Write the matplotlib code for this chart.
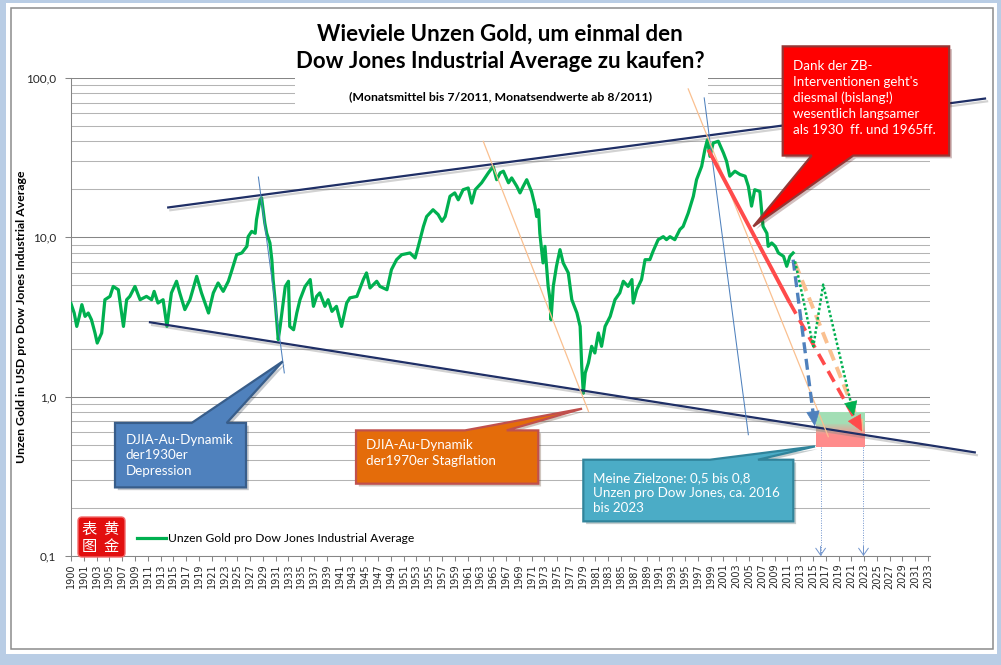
import matplotlib
matplotlib.use("Agg")
import numpy as np
import matplotlib.pyplot as plt
import matplotlib.patheffects as pe
from matplotlib.patches import Rectangle, Polygon, FancyBboxPatch
from matplotlib.ticker import FixedLocator, LogLocator, NullFormatter

plt.rcParams['font.family'] = ['Lato', 'DejaVu Sans']

# Unzen Gold pro Dow Jones
years = [1900.0, 1900.5, 1900.9, 1901.3, 1901.7, 1902.2, 1902.7, 1903.2, 1903.75, 1904.1,
         1904.8, 1905.3, 1906.1, 1906.6, 1907.4, 1908.2, 1908.7, 1909.2, 1910.0, 1910.8,
         1911.8, 1912.6, 1913.0, 1913.6, 1914.4, 1915.0, 1915.7, 1916.5, 1917.0, 1917.8,
         1918.6, 1919.65, 1920.4, 1921.5, 1922.25, 1923.0, 1923.8, 1924.6, 1925.1, 1925.9,
         1926.7, 1927.5, 1927.7, 1928.25, 1928.8, 1929.0, 1929.55, 1929.8, 1930.3, 1930.6,
         1931.1, 1931.4, 1931.6, 1931.9, 1932.4, 1932.7, 1933.1, 1933.5, 1934.0, 1934.2,
         1934.8, 1935.3, 1935.8, 1936.6, 1937.4, 1937.9, 1938.4, 1938.9, 1939.7, 1940.2,
         1940.8, 1941.5, 1942.3, 1943.1, 1943.6, 1944.7, 1945.7, 1946.2, 1946.75, 1947.8,
         1948.3, 1949.4, 1950.1, 1950.9, 1951.7, 1953.0, 1953.8, 1954.3, 1955.1, 1955.6,
         1956.6, 1957.4, 1958.0, 1958.5, 1959.25, 1960.0, 1960.55, 1961.3, 1962.1, 1962.65,
         1963.2, 1964.2, 1965.25, 1966.0, 1966.55, 1967.1, 1967.6, 1968.4, 1968.9, 1969.7,
         1970.2, 1970.7, 1971.25, 1972.0, 1972.55, 1972.8, 1973.1, 1973.3, 1973.8, 1974.1,
         1974.6, 1974.9, 1975.05, 1975.4, 1975.9, 1976.45, 1976.95, 1977.75, 1978.3, 1979.1,
         1979.6, 1979.85, 1980.1, 1980.4, 1980.9, 1981.4, 1981.9, 1982.45, 1982.95, 1983.5,
         1984.3, 1985.05, 1985.8, 1986.35, 1987.1, 1987.7, 1987.9, 1988.45, 1989.2, 1989.75,
         1990.5, 1991.0, 1991.8, 1992.6, 1993.1, 1993.65, 1994.4, 1995.2, 1995.7, 1996.5,
         1997.3, 1997.8, 1998.6, 1999.1, 1999.5, 1999.9, 2000.4, 2001.2, 2002.0, 2002.5,
         2003.0, 2003.8, 2004.6, 2005.4, 2005.9, 2006.4, 2006.9, 2007.7, 2008.2, 2008.8,
         2009.0, 2009.55, 2010.1, 2010.6, 2011.4, 2011.9, 2012.4, 2012.9]
ratio = [3.84, 3.35, 2.76, 3.19, 3.78, 3.19, 3.35, 3.04, 2.51, 2.17,
         2.51, 4.06, 4.26, 4.92, 4.69, 2.76, 4.06, 4.26, 4.92, 4.06,
         4.26, 4.06, 4.58, 3.87, 4.06, 2.76, 4.48, 5.30, 4.48, 3.52,
         4.06, 5.69, 4.48, 3.35, 4.48, 5.17, 4.58, 5.30, 6.12, 7.78,
         7.98, 8.78, 10.1, 10.9, 10.6, 12.9, 17.2, 17.7, 12.3, 10.6,
         9.22, 7.24, 5.43, 4.06, 2.28, 2.76, 3.69, 4.92, 5.30, 2.76,
         2.63, 3.35, 4.06, 4.92, 5.43, 3.69, 4.26, 4.48, 3.69, 4.06,
         3.43, 3.69, 2.76, 3.87, 4.17, 4.26, 5.43, 5.98, 4.81, 5.30,
         4.92, 4.69, 6.27, 7.24, 7.78, 7.98, 7.42, 8.78, 11.7, 13.5,
         14.9, 13.9, 12.6, 13.5, 18.1, 19.0, 17.2, 19.9, 20.4, 16.4,
         19.9, 22.0, 25.4, 27.9, 23.0, 25.4, 26.0, 22.0, 23.6, 20.9,
         19.0, 20.9, 23.0, 19.4, 15.7, 13.5, 14.9, 10.6, 6.91, 8.78,
         4.92, 4.06, 3.04, 4.92, 6.58, 8.37, 6.91, 5.98, 4.06, 3.35,
         2.76, 1.55, 1.05, 1.41, 1.63, 2.07, 1.88, 2.51, 2.07, 2.76,
         3.19, 4.06, 4.48, 5.30, 4.92, 5.43, 3.87, 4.69, 5.43, 7.24,
         7.24, 8.17, 9.67, 10.1, 9.67, 10.1, 9.67, 11.2, 11.7, 14.2,
         18.1, 23.0, 27.9, 35.5, 41.0, 32.2, 39.1, 40.1, 33.9, 30.0,
         24.2, 26.0, 24.8, 24.2, 20.9, 15.7, 19.9, 19.4, 11.7, 10.6,
         8.78, 9.22, 8.78, 7.98, 7.60, 6.58, 7.60, 7.98]

tick_years = [1900] + list(range(1901, 2034, 2))
ytick_vals = [0.1, 1, 10, 100]
ytick_labels = ["0,1", "1,0", "10,0", "100,0"]

# drawn lines (year, value)
upper_trend = ([1915.2, 2042.9], [15.4, 74.3])
lower_trend = ([1912.35, 2041.3], [2.93, 0.447])
blue_thin = [([1929.3, 1933.35], [23.9, 1.41]), ([1999.0, 2005.9], [75.0, 0.577])]
orange_thin = [([1964.46, 1980.9], [40.0, 0.809]), ([1996.5, 2018.4], [85.4, 0.561])]
red_solid = ([1999.64, 2012.4], [35.5, 3.87])
red_dash = ([2012.4, 2023.7], [3.87, 0.603])
orange_dash = ([2013.2, 2023.8], [6.91, 0.594])
blue_dash = ([2012.9, 2016.3], [7.24, 0.651])
green_dots = ([2013.2, 2016.06, 2017.6, 2022.4], [7.07, 2.07, 5.05, 0.76])
zone_years = [2016.5, 2024.1]
zone_vals = [0.48, 0.80]
zone_arrow_years = [2017.2, 2023.9]

W, H = 1001, 665
fig = plt.figure(figsize=(W / 100, H / 100), dpi=100, facecolor='#b9cde5')
fig.add_artist(Rectangle((6 / W, 1 - 654 / H), 991 / W, 651 / H, transform=fig.transFigure,
                         fc='white', ec='none', zorder=-3))
fig.add_artist(Rectangle((11 / W, 1 - 649 / H), 982 / W, 641 / H, transform=fig.transFigure,
                         fc='none', ec='#8c8c8c', lw=1.1, zorder=-2))

ax = fig.add_axes([71 / W, 1 - 556 / H, 859 / W, 478 / H])
ax.set_facecolor('none')
ax.set_yscale('log')
ax.set_ylim(0.1, 100)
ax.set_xlim(1900, 2034.3)

ax.xaxis.set_major_locator(FixedLocator([1900] + [y + 1 for y in tick_years[1:]]))
ax.set_xticklabels([str(y) for y in tick_years], rotation=90, fontsize=7,
                   family='DejaVu Sans', color='#262626')
ax.yaxis.set_major_locator(FixedLocator(ytick_vals))
ax.set_yticklabels(ytick_labels, fontsize=8.5, color='#262626')
ax.yaxis.set_minor_locator(LogLocator(base=10, subs=np.arange(2, 10)))
ax.yaxis.set_minor_formatter(NullFormatter())
ax.tick_params(axis='y', which='minor', length=0)
ax.tick_params(axis='y', which='major', length=4.5, width=0.75, color='#868686', pad=6)
ax.tick_params(axis='x', length=3.5, width=0.75, color='#868686', pad=2)
ax.grid(True, which='major', axis='y', color='#868686', lw=0.75)
ax.grid(True, which='minor', axis='y', color='#b4b4b4', lw=0.75)
ax.set_axisbelow(True)
for s in ['top', 'right']:
    ax.spines[s].set_visible(False)
for s in ['left', 'bottom']:
    ax.spines[s].set_color('#868686')
    ax.spines[s].set_linewidth(0.75)

# title background hides the top gridlines
ax.add_patch(Rectangle((295 / W, 1 - 108 / H), 413 / W, 93 / H, transform=fig.transFigure,
                       fc='white', ec='none', zorder=1, clip_on=False))
fig.text(500 / W, 1 - 48 / H, "Wieviele Unzen Gold, um einmal den\nDow Jones Industrial Average zu kaufen?",
         ha='center', va='center', fontsize=16, fontweight='bold', linespacing=1.4)
fig.text(501 / W, 1 - 97 / H, "(Monatsmittel bis 7/2011, Monatsendwerte ab 8/2011)",
         ha='center', va='center', fontsize=8.8, fontweight='bold')
fig.text(22 / W, 1 - 317 / H, "Unzen Gold in USD pro Dow Jones Industrial Average",
         rotation=90, ha='center', va='center', fontsize=8.8, fontweight='bold')

ax.plot(years, ratio, color='#00b050', lw=2.3, zorder=3, solid_joinstyle='round',
        label='Unzen Gold pro Dow Jones Industrial Average')

shadow = [pe.SimpleLineShadow(offset=(1.5, -2), shadow_color='#808080', alpha=0.35), pe.Normal()]
for xs, ys in [upper_trend, lower_trend]:
    ax.plot(xs, ys, color='#1f2f66', lw=1.6, zorder=4, clip_on=False, path_effects=shadow)
for xs, ys in blue_thin:
    ax.plot(xs, ys, color='#4f81bd', lw=0.75, zorder=4, clip_on=False)
for xs, ys in orange_thin:
    ax.plot(xs, ys, color='#fac090', lw=0.9, zorder=4, clip_on=False)

# target zone with vertical gradient (green on top, red below)
n = 40
edges = np.logspace(np.log10(zone_vals[0]), np.log10(zone_vals[1]), n + 1)
top_c = np.array([0.64, 0.87, 0.71])
bot_c = np.array([1.0, 0.55, 0.55])
for i in range(n):
    depth = (n - 1 - i) / (n - 1)
    t = float(np.clip((depth - 0.3) / 0.35, 0, 1))
    c = top_c * (1 - t) + bot_c * t
    ax.add_patch(Rectangle((zone_years[0], edges[i]), zone_years[1] - zone_years[0],
                           edges[i + 1] - edges[i], fc=c, ec='none', zorder=2.5))


def back_point(xs, ys, dist):
    p1 = ax.transData.transform((xs[-1], ys[-1]))
    p0 = ax.transData.transform((xs[-2], ys[-2]))
    d = (p1 - p0) / np.hypot(*(p1 - p0))
    return ax.transData.inverted().transform(p1 - d * dist)


def arrow_path(xs, ys, color, lw, dashes, head, hw, z=5):
    b = back_point(xs, ys, head)
    px = list(xs[:-1]) + [b[0]]
    py = list(ys[:-1]) + [b[1]]
    ax.plot(px, py, color=color, lw=lw, dashes=dashes, zorder=z, clip_on=False,
            solid_capstyle='butt', dash_capstyle='butt')
    ax.annotate('', xy=(xs[-1], ys[-1]), xytext=(b[0], b[1]), zorder=z,
                arrowprops=dict(arrowstyle='-|>,head_length=%.2f,head_width=%.2f' % (head * 0.072, hw),
                                mutation_scale=10, fc=color, ec=color, lw=0.5,
                                shrinkA=0, shrinkB=0))


ax.plot(*red_solid, color='#ff4b4b', lw=2.8, zorder=5, solid_capstyle='butt')
arrow_path(*orange_dash, '#fac090', 2.8, (3.0, 1.8), 12, 0.35)
arrow_path(*red_dash, '#ff4b4b', 2.6, (3.4, 2.0), 15, 0.5)
arrow_path(*blue_dash, '#4f81bd', 2.4, (3.3, 1.7), 14, 0.45)
arrow_path(*green_dots, '#00b050', 1.8, (1.0, 0.9), 13, 0.45)
for x in zone_arrow_years:
    arrow_path([x, x], [zone_vals[0], 0.1], '#6f93cc', 0.7, (1.0, 1.5), 1, 0.0, z=4)
    ax.annotate('', xy=(x, 0.1), xytext=(x, 0.115), zorder=4,
                arrowprops=dict(arrowstyle='->,head_length=0.5,head_width=0.35', mutation_scale=10,
                                color='#6f93cc', lw=0.7, shrinkA=0, shrinkB=0))


def callout(box, base, tip, side, fc, ec, text, tx, ty, ls):
    x0, x1, ylo, yhi = box
    if side == 'top':
        pts = [(x0, yhi), (base[0], yhi), tip, (base[1], yhi), (x1, yhi), (x1, ylo), (x0, ylo)]
    else:
        pts = [(x0, yhi), (x1, yhi), (x1, ylo), (base[1], ylo), tip, (base[0], ylo), (x0, ylo)]
    ax.add_patch(Polygon(pts, closed=True, fc=fc, ec=ec, lw=1.6, zorder=6, clip_on=False,
                         joinstyle='miter',
                         path_effects=[pe.withSimplePatchShadow(offset=(2, -2), alpha=0.25)]))
    ax.text(tx, ty, text, color='white', fontsize=9.6, ha='left', va='center',
            linespacing=ls, zorder=7, clip_on=False)


callout((1906.88, 1927.36, 0.2695, 0.684), (1918.87, 1924.34), (1933.1, 1.665), 'top',
        '#4f81bd', '#385d8a', "DJIA-Au-Dynamik\nder1930er\nDepression", 1908.55, 0.428, 1.35)
callout((1944.56, 1973.06, 0.2844, 0.6143), (1961.6, 1968.12), (1979.9, 0.841), 'top',
        '#e46c0a', '#c0504d', "DJIA-Au-Dynamik\nder1970er Stagflation", 1946.1, 0.443, 1.35)
callout((1980.1, 2012.93, 0.165, 0.402), (1999.9, 2007.4), (2016.32, 0.4876), 'top',
        '#4bacc6', '#31849b', "Meine Zielzone: 0,5 bis 0,8\nUnzen pro Dow Jones, ca. 2016\nbis 2023",
        1981.6, 0.2486, 1.32)
callout((2011.27, 2037.3, 32.6, 158), (2015.8, 2022.3), (2006.68, 11.7), 'bottom',
        '#ff0000', '#953735',
        "Dank der ZB-\nInterventionen geht's\ndiesmal (bislang!)\nwesentlich langsamer\nals 1930  ff. und 1965ff.",
        2012.93, 75.0, 1.38)

ax.legend(loc='center left', bbox_to_anchor=((137 - 71) / 859, (556 - 539) / 478),
          frameon=False, fontsize=8.7, handlelength=2.4, handletextpad=0.2,
          borderpad=0, borderaxespad=0)

# logo
fig.add_artist(FancyBboxPatch((78 / W, 1 - 557 / H), 47 / W, 40 / H,
                              boxstyle='round,pad=0,rounding_size=0.004', mutation_aspect=W / H,
                              transform=fig.transFigure, fc='#e20f0f', ec='#f26a6a', lw=1, zorder=5))
for ch, cx, cy in [('表', 89, 529), ('黄', 111, 529), ('图', 89, 547), ('金', 111, 547)]:
    fig.text(cx / W, 1 - cy / H, ch, color='white', fontsize=11, ha='center', va='center',
             family=['Noto Sans CJK SC', 'DejaVu Sans'], zorder=6)

fig.savefig('out.png', dpi=100, facecolor=fig.get_facecolor())
